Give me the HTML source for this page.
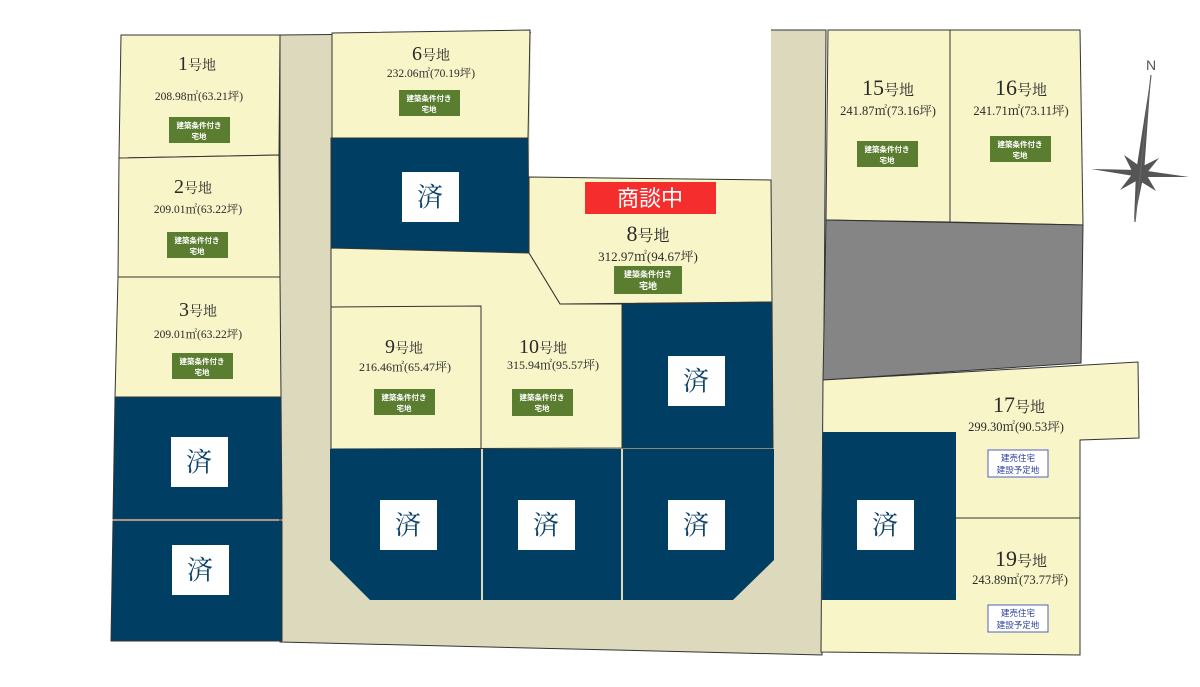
<!DOCTYPE html>
<html><head><meta charset="utf-8"><style>
html,body{margin:0;padding:0;background:#fff}
svg{display:block}
.t{font-family:"Liberation Serif","Noto Serif CJK SC",serif;fill:#2a2a2a;text-anchor:middle}
.b{font-family:"Liberation Sans","Noto Sans CJK JP",sans-serif;fill:#fff;text-anchor:middle;font-weight:bold}
.s{font-family:"Liberation Serif","Noto Serif CJK SC",serif;fill:#0a4068;text-anchor:middle;font-size:26px}
.k{font-family:"Liberation Sans","Noto Sans CJK JP",sans-serif;fill:#2a3e9a;text-anchor:middle;font-size:8.5px}
</style></head><body>
<svg width="1200" height="687" viewBox="0 0 1200 687" xmlns="http://www.w3.org/2000/svg">
<g stroke="#333" stroke-width="1">
<!-- road -->
<polygon points="280,35 771,30 826,30 822,655 280,642" fill="#ddd9bd"/>
<polygon points="531,28 771,28 771,180 529,177" fill="#fff" stroke="none"/>
<line x1="771" y1="30" x2="826" y2="30"/>
<!-- left column -->
<polygon points="121,35 280,35 279,155 119,158" fill="#f8f5c8"/>
<polygon points="119,158 279,155 280,277 118,277" fill="#f8f5c8"/>
<polygon points="118,277 280,277 281,397 115,397" fill="#f8f5c8"/>
<polygon points="115,397 281,397 282,519 113,519" fill="#003f63"/>
<polygon points="113,521 282,521 282,641 111,641" fill="#003f63"/>
<!-- center -->
<polygon points="332,33 530,30 528,138 332,138" fill="#f8f5c8"/>
<polygon points="331,138 528,138 529,253 331,248" fill="#003f63"/>
<polygon points="529,177 771,180 772,302 560,304 529,253" fill="#f8f5c8"/>
<polygon points="331,248 529,253 560,304 622,304 622,448 331,449" fill="#f8f5c8"/>
<polyline points="331,307 481,306 481,448" fill="none"/>
<polygon points="622,304 772,302 773,448 622,448" fill="#003f63"/>
<polygon points="330,449 481,449 481,600 370,600 330,560" fill="#003f63" stroke="none"/>
<polygon points="483,449 621,449 621,600 483,600" fill="#003f63" stroke="none"/>
<polygon points="623,449 774,449 774,560 733,600 623,600" fill="#003f63" stroke="none"/>
<!-- right -->
<polygon points="828,30 950,30 950,222 826,220" fill="#f8f5c8"/>
<polygon points="950,30 1080,30 1083,225 950,222" fill="#f8f5c8"/>
<polygon points="826,220 1083,225 1081,363 823,380" fill="#868586"/>
<polygon points="823,380 1138,362 1139,438 1080,440 1080,655 821,652" fill="#f8f5c8"/>
<line x1="956" y1="518" x2="1080" y2="518"/>
<polygon points="823,432 956,432 956,600 822,600" fill="#003f63" stroke="none"/>
</g>
<!-- 済 boxes -->
<g fill="#fff">
<rect x="402" y="172" width="57" height="50"/>
<rect x="171" y="437" width="57" height="50"/>
<rect x="172" y="545" width="57" height="50"/>
<rect x="668" y="356" width="57" height="50"/>
<rect x="380" y="500" width="57" height="50"/>
<rect x="518" y="500" width="57" height="50"/>
<rect x="668" y="500" width="57" height="50"/>
<rect x="857" y="500" width="57" height="50"/>
</g>
<g class="s">
<text x="430" y="206">済</text><text x="199" y="471">済</text><text x="200" y="579">済</text>
<text x="696" y="390">済</text><text x="408" y="534">済</text><text x="546" y="534">済</text>
<text x="696" y="534">済</text><text x="885" y="534">済</text>
</g>
<!-- red -->
<rect x="585" y="182" width="131" height="32" fill="#f52d2d"/>
<text x="650" y="206" class="b" style="font-size:22px;font-weight:normal">商談中</text>
<!-- titles -->
<g class="t">
<text x="197" y="70"><tspan font-size="20">1</tspan><tspan font-size="14">号地</tspan></text>
<text x="199" y="100" font-size="11.5">208.98㎡(63.21坪)</text>
<text x="193" y="193"><tspan font-size="20">2</tspan><tspan font-size="14">号地</tspan></text>
<text x="198" y="213" font-size="11.5">209.01㎡(63.22坪)</text>
<text x="198" y="316"><tspan font-size="20">3</tspan><tspan font-size="14">号地</tspan></text>
<text x="198" y="338" font-size="11.5">209.01㎡(63.22坪)</text>
<text x="431" y="60"><tspan font-size="20">6</tspan><tspan font-size="14">号地</tspan></text>
<text x="431" y="77" font-size="11.5">232.06㎡(70.19坪)</text>
<text x="648" y="241"><tspan font-size="22">8</tspan><tspan font-size="16">号地</tspan></text>
<text x="648" y="261" font-size="13">312.97㎡(94.67坪)</text>
<text x="404" y="353"><tspan font-size="20">9</tspan><tspan font-size="14">号地</tspan></text>
<text x="405" y="371" font-size="12">216.46㎡(65.47坪)</text>
<text x="543" y="353"><tspan font-size="20">10</tspan><tspan font-size="14">号地</tspan></text>
<text x="553" y="369" font-size="12">315.94㎡(95.57坪)</text>
<text x="888" y="95"><tspan font-size="22">15</tspan><tspan font-size="15">号地</tspan></text>
<text x="888" y="115" font-size="12.5">241.87㎡(73.16坪)</text>
<text x="1021" y="95"><tspan font-size="22">16</tspan><tspan font-size="15">号地</tspan></text>
<text x="1021" y="115" font-size="12.5">241.71㎡(73.11坪)</text>
<text x="1019" y="412"><tspan font-size="22">17</tspan><tspan font-size="15">号地</tspan></text>
<text x="1016" y="431" font-size="12.5">299.30㎡(90.53坪)</text>
<text x="1021" y="566"><tspan font-size="22">19</tspan><tspan font-size="15">号地</tspan></text>
<text x="1020" y="584" font-size="12.5">243.89㎡(73.77坪)</text>
</g>
<!-- green badges -->
<g fill="#5b7d30">
<rect x="169" y="117" width="61" height="26"/>
<rect x="167" y="232" width="61" height="26"/>
<rect x="172" y="353" width="61" height="26"/>
<rect x="399" y="90" width="61" height="26"/>
<rect x="614" y="266" width="68" height="28"/>
<rect x="374" y="389" width="61" height="26"/>
<rect x="512" y="389" width="61" height="27"/>
<rect x="857" y="141" width="61" height="26"/>
<rect x="990" y="136" width="61" height="26"/>
</g>
<g class="b" font-size="7.5">
<text x="199" y="128">建築条件付き</text><text x="199" y="139">宅地</text>
<text x="197" y="243">建築条件付き</text><text x="197" y="254">宅地</text>
<text x="202" y="364">建築条件付き</text><text x="202" y="375">宅地</text>
<text x="429" y="101">建築条件付き</text><text x="429" y="112">宅地</text>
<text x="648" y="277" font-size="8">建築条件付き</text><text x="648" y="289" font-size="9">宅地</text>
<text x="404" y="400">建築条件付き</text><text x="404" y="411">宅地</text>
<text x="542" y="400">建築条件付き</text><text x="542" y="411">宅地</text>
<text x="887" y="152">建築条件付き</text><text x="887" y="163">宅地</text>
<text x="1020" y="147">建築条件付き</text><text x="1020" y="158">宅地</text>
</g>
<!-- blue boxes -->
<rect x="988" y="450" width="60" height="27" fill="#fff" stroke="#5060b8" stroke-width="1"/>
<text x="1018" y="461" class="k">建売住宅</text><text x="1018" y="473" class="k">建設予定地</text>
<rect x="988" y="605" width="60" height="27" fill="#fff" stroke="#5060b8" stroke-width="1"/>
<text x="1018" y="616" class="k">建売住宅</text><text x="1018" y="628" class="k">建設予定地</text>
<!-- compass -->
<g fill="#555" stroke="none">
<polygon points="1151,75 1144,173 1134,222 1136,172"/>
<polygon points="1091,169 1140,170 1189,177 1140,177"/>
<polygon points="1124,155 1141,167 1159,158 1146,174 1156,191 1138,180 1120,190 1133,173"/>
</g>
<line x1="1151" y1="75" x2="1135" y2="222" stroke="#666" stroke-width="1.2"/>
<text x="1151" y="70" font-family="Liberation Sans,sans-serif" font-size="14" fill="#555" text-anchor="middle">N</text>
</svg>
</body></html>
